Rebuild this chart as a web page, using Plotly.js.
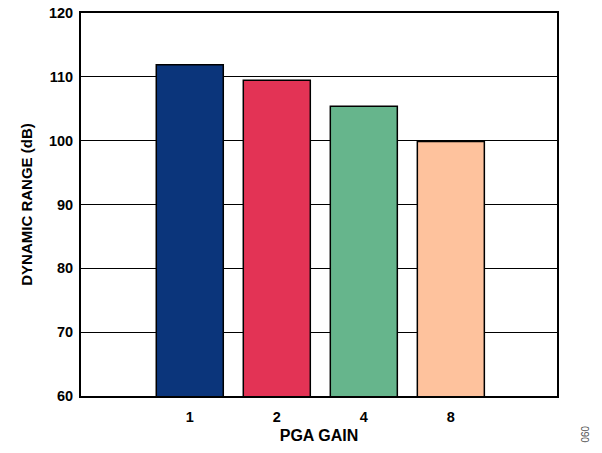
<!DOCTYPE html>
<html><head><meta charset="utf-8">
<script src="https://cdn.plot.ly/plotly-3.0.1.min.js"></script>
<style>body{margin:0;background:#fff}#c{width:602px;height:453px}</style>
</head><body><div id="c"></div>
<script>
const categories = ["1", "2", "4", "8"];
const dynamicRange = [111.9, 109.45, 105.4, 99.85];
const barColors = ["#0b357b", "#e33355", "#66b58c", "#fec29d"];
const yTicks = [60, 70, 80, 90, 100, 110, 120];

const trace = {
  type: "bar",
  x: categories,
  y: dynamicRange,
  width: 0.77,
  marker: {color: barColors, line: {color: "#000", width: 1.5}},
  hoverinfo: "none"
};
const font = {family: "Liberation Sans, Arial, sans-serif", color: "#000"};
const layout = {
  width: 602, height: 453,
  margin: {l: 81, r: 45, t: 13, b: 57},
  paper_bgcolor: "#fff", plot_bgcolor: "#fff",
  showlegend: false,
  font: font,
  xaxis: {
    type: "category",
    range: [-1.25, 4.22],
    showgrid: false, zeroline: false,
    showline: true, linecolor: "#000", linewidth: 2, mirror: true,
    ticks: "",
    ticklabelstandoff: 7,
    tickfont: {family: font.family, size: 14.5, color: "#000", weight: "bold"},
    title: {text: "<b>PGA GAIN</b>", font: {family: font.family, size: 16, color: "#000"}, standoff: 5}
  },
  yaxis: {
    range: [60, 120],
    tickvals: yTicks,
    showgrid: true, gridcolor: "#000", gridwidth: 1.3,
    zeroline: false,
    showline: true, linecolor: "#000", linewidth: 2, mirror: true,
    ticks: "",
    ticklabelstandoff: 3,
    tickfont: {family: font.family, size: 14.5, color: "#000", weight: "bold"},
    title: {text: "<b>DYNAMIC RANGE (dB)</b>", font: {family: font.family, size: 15, color: "#000"}, standoff: 13}
  },
  annotations: [{
    text: "090", xref: "paper", yref: "paper", x: 1.0, y: 0.0,
    xshift: 35, yshift: -49, textangle: 90, showarrow: false,
    font: {family: font.family, size: 10, color: "#555"}
  }]
};
Plotly.newPlot("c", [trace], layout, {staticPlot: true});
</script></body></html>
